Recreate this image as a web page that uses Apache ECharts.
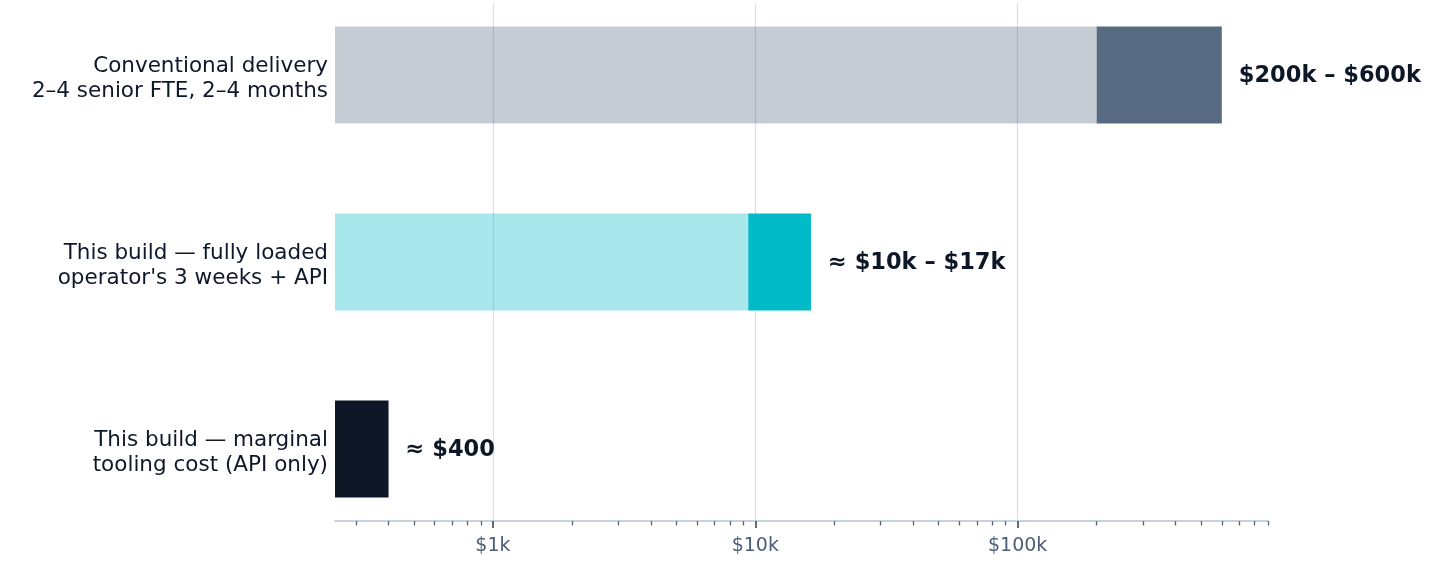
<!DOCTYPE html>
<html>
<head>
<meta charset="utf-8">
<script src="https://cdn.jsdelivr.net/npm/echarts@6/dist/echarts.min.js"></script>
<style>
html,body{margin:0;padding:0;background:#fff;}
#chart{width:1456px;height:578px;}
</style>
</head>
<body>
<div id="chart"></div>
<script>
// Rows listed top to bottom
var CATEGORIES = [
  'Conventional delivery\n2–4 senior FTE, 2–4 months',
  'This build — fully loaded\noperator\'s 3 weeks + API',
  'This build — marginal\ntooling cost (API only)'
];
var LOW_VALUES = [200000, 9400, null];   // end of the pale part (null = no pale part)
var HIGH_VALUES = [600000, 16300, 400];  // end of the bar
var VALUE_LABELS = ['$200k – $600k', '≈ $10k – $17k', '≈ $400'];
var BAR_COLORS = ['#586a82', '#00bac8', '#0d1726'];

var AXIS_MIN = 250;
var AXIS_MAX = 900000;
var TICK_VALUES = [1000, 10000, 100000];
var TICK_LABELS = ['$1k', '$10k', '$100k'];

var L = Math.log10;
var n = CATEGORIES.length;

var minorTicks = [];
for (var d = 2; d <= 5; d++) {
  for (var k = 2; k <= 9; k++) {
    var v = k * Math.pow(10, d);
    if (v >= AXIS_MIN && v <= AXIS_MAX) minorTicks.push(L(v));
  }
}
var majorTicks = TICK_VALUES.map(L);

var seriesData = CATEGORIES.map(function (c, i) {
  var lo = LOW_VALUES[i] == null ? AXIS_MIN : LOW_VALUES[i];
  return [L(AXIS_MIN), L(lo), L(HIGH_VALUES[i]), n - 1 - i, i];
});

var BAR_H = 0.519;
var Y_LABEL_SHIFT = 0.022; // nudge row labels slightly below bar centre
var rowLabelPos = CATEGORIES.map(function (c, i) { return i - Y_LABEL_SHIFT; });

var chart = echarts.init(document.getElementById('chart'));
chart.setOption({
  animation: false,
  backgroundColor: '#ffffff',
  grid: { left: 335, right: 188, top: 3, bottom: 57, containLabel: false },
  xAxis: [
    {
      type: 'value', position: 'bottom',
      min: L(AXIS_MIN), max: L(AXIS_MAX),
      axisLine: { show: true, onZero: false, lineStyle: { color: '#b6c3d0', width: 1.5 } },
      axisTick: { show: true, customValues: majorTicks, length: 7, lineStyle: { color: '#2e3d52', width: 1.5 } },
      axisLabel: {
        show: true, customValues: majorTicks, margin: 16,
        color: '#4b5d77', fontSize: 19, fontFamily: 'DejaVu Sans',
        formatter: function (v) {
          for (var j = 0; j < majorTicks.length; j++) {
            if (Math.abs(majorTicks[j] - v) < 1e-6) return TICK_LABELS[j];
          }
          return '';
        }
      },
      splitLine: { show: true, lineStyle: { color: '#d3e0e9', width: 1.2 } }
    },
    {
      type: 'value', position: 'bottom',
      min: L(AXIS_MIN), max: L(AXIS_MAX),
      axisLine: { show: false, onZero: false },
      axisTick: { show: true, customValues: minorTicks, length: 4.5, lineStyle: { color: '#54657d', width: 1.3 } },
      axisLabel: { show: false },
      splitLine: { show: false }
    }
  ],
  yAxis: {
    type: 'value', min: -0.385, max: 2.385,
    axisLine: { show: false }, axisTick: { show: false }, splitLine: { show: false },
    axisLabel: {
      show: true, customValues: rowLabelPos, margin: 7,
      color: '#0f172a', fontSize: 21.5, lineHeight: 25, fontFamily: 'DejaVu Sans', align: 'right',
      formatter: function (v) { return CATEGORIES[n - 1 - Math.round(v)]; }
    }
  },
  series: [{
    type: 'custom',
    xAxisIndex: 0,
    data: seriesData,
    encode: { x: [0, 1, 2], y: 3 },
    renderItem: function (params, api) {
      var y = api.value(3);
      var idx = api.value(4);
      var p0 = api.coord([api.value(0), y]);
      var p1 = api.coord([api.value(1), y]);
      var p2 = api.coord([api.value(2), y]);
      var h = api.size([0, BAR_H])[1];
      var color = BAR_COLORS[idx];
      var children = [];
      if (p1[0] > p0[0]) {
        children.push({
          type: 'rect',
          shape: { x: p0[0], y: p0[1] - h / 2, width: p1[0] - p0[0], height: h },
          style: { fill: color, opacity: 0.34 }
        });
      }
      children.push({
        type: 'rect',
        shape: { x: p1[0], y: p1[1] - h / 2, width: p2[0] - p1[0], height: h },
        style: { fill: color }
      });
      children.push({
        type: 'text',
        x: p2[0] + 17, y: p2[1] + 1.5,
        style: {
          text: VALUE_LABELS[idx],
          fill: '#0d1726',
          font: 'bold 22.5px "DejaVu Sans"',
          verticalAlign: 'middle', align: 'left'
        }
      });
      return { type: 'group', children: children };
    }
  }]
});
</script>
</body>
</html>
